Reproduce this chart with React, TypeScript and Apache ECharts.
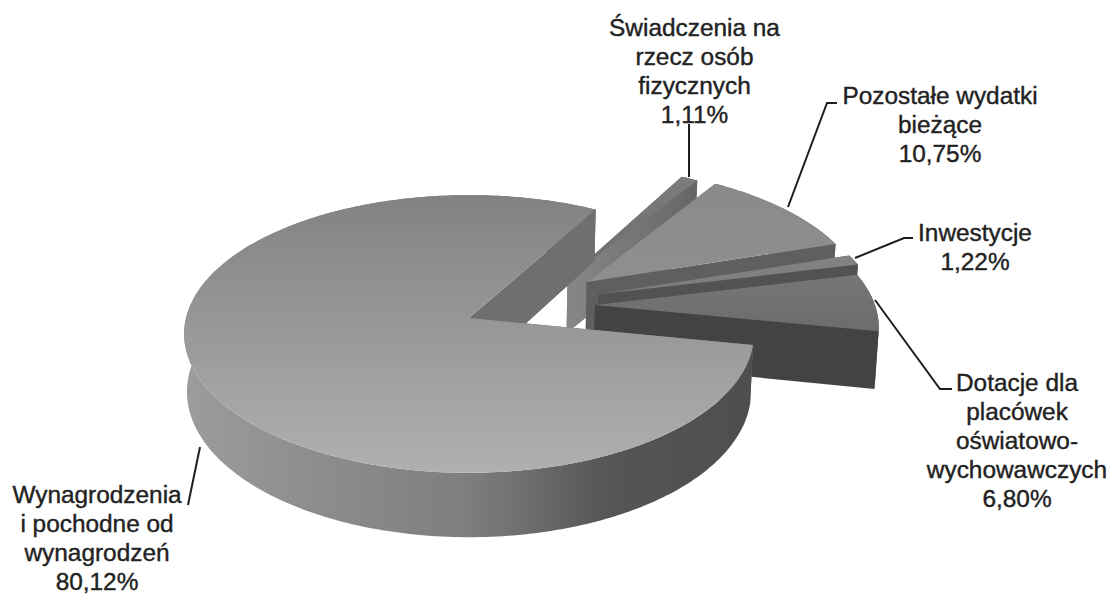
import React, { useEffect, useRef } from "react";
import * as echarts from "echarts";

const categories = ["Świadczenia na rzecz osób fizycznych", "Pozostałe wydatki bieżące", "Inwestycje", "Dotacje dla placówek oświatowo-wychowawczych", "Wynagrodzenia i pochodne od wynagrodzeń"];
const values = [1.11, 10.75, 1.22, 6.80, 80.12];
const percentLabels = ["1,11%", "10,75%", "1,22%", "6,80%", "80,12%"];
const labelLines = [
  ["Świadczenia na", "rzecz osób", "fizycznych"],
  ["Pozostałe wydatki", "bieżące"],
  ["Inwestycje"],
  ["Dotacje dla", "placówek", "oświatowo-", "wychowawczych"],
  ["Wynagrodzenia", "i pochodne od", "wynagrodzeń"],
];

// Projection of the pie plane (perspective view)
const APEX_X = 469, APEX_Y = 318, A = 283, B = 137, K = 0.115, DEPTH = 57, BOTTOM_SCALE = 0.99;
const START_DEG = 60.5;
// In-plane explosion of every slice
const explodeU = [0.36, 0.429, 0.466, 0.45, 0];
const explodeV = [0.3, 0.271, 0.176, 0.096, 0];
const topColors = [["#7c7c7c", "#6c6c6c"], ["#8a8a8a", "#8f8f8f"], ["#838383", "#7b7b7b"], ["#767676", "#6c6c6c"], ["#828282", "#b0b0b0"]];
const arcColors = [["#6a6a6a", "#6a6a6a"], ["#5f5f5f", "#5f5f5f"], ["#525252", "#525252"], ["#434343", "#434343"], ["#9c9c9c", "#8c8c8c", "#7e7e7e", "#555555", "#4e4e4e"]];
const wallColors = [["#878787", "#666666"], ["#5f5f5f", "#5f5f5f"], ["#525252", "#525252"], ["#434343", "#434343"], ["#6f6f6f", "#6f6f6f"]];

const labelBoxes = [
  { x: 694.5, y: 27 }, { x: 940, y: 95 }, { x: 975, y: 232 }, { x: 1017, y: 382 }, { x: 97, y: 494.5 },
];
const LINE_H = 29;
const leaders: number[][][] = [
  [[689, 177], [689, 124]],
  [[788, 207], [827, 103], [837, 103]],
  [[855, 258], [904, 238], [913, 238]],
  [[875, 300], [940, 389], [952, 389]],
  [[200, 447], [188, 505]],
];

function project(u: number, v: number, bottom: boolean): number[] {
  const s = 1 + K * v;
  const scale = bottom ? BOTTOM_SCALE : 1;
  return [APEX_X + (scale * A * u) / s, APEX_Y - (B * v) / s + (bottom ? DEPTH / s : 0)];
}

function renderSlice(params: any, api: any) {
  const i = params.dataIndex;
  let before = 0;
  for (let j = 0; j < i; j++) before += values[j];
  const total = values.reduce((a, b) => a + b, 0);
  const a0 = START_DEG - (before / total) * 360;
  const a1 = a0 - (api.value(0) / total) * 360;
  const du = explodeU[i], dv = explodeV[i];
  const arc = (bottom: boolean) => {
    const out: number[][] = [];
    const n = Math.max(2, Math.ceil(a0 - a1));
    for (let k = 0; k <= n; k++) {
      const t = ((a0 + ((a1 - a0) * k) / n) * Math.PI) / 180;
      out.push(project(du + Math.cos(t), dv + Math.sin(t), bottom));
    }
    return out;
  };
  const top = arc(false), bot = arc(true);
  const cTop = project(du, dv, false), cBot = project(du, dv, true);
  const grad = (c: string[], horizontal: boolean) =>
    new echarts.graphic.LinearGradient(
      0, 0, horizontal ? 1 : 0, horizontal ? 0 : 1,
      c.map((color, k) => ({ offset: k / (c.length - 1), color }))
    );
  const poly = (points: number[][], fill: any) => ({
    type: "polygon",
    shape: { points },
    style: { fill, stroke: "none" },
  });
  return {
    type: "group",
    children: [
      poly([cTop, top[0], bot[0], cBot], grad(wallColors[i], true)),
      poly(top.concat(bot.slice().reverse()), grad(arcColors[i], true)),
      poly([cTop, top[top.length - 1], bot[bot.length - 1], cBot], grad(wallColors[i], true)),
      poly([cTop].concat(top), grad(topColors[i], false)),
    ],
  };
}

export default function App() {
  const ref = useRef<HTMLDivElement>(null);
  useEffect(() => {
    const chart = echarts.init(ref.current!, undefined, { renderer: "svg" });
    const font = '"Liberation Sans", Arial, sans-serif';
    const texts: any[] = [];
    labelBoxes.forEach((b, i) => {
      labelLines[i].concat(percentLabels[i]).forEach((line, l) => {
        texts.push({
          type: "text",
          x: b.x,
          y: b.y + l * LINE_H,
          z: 10,
          style: {
            text: line,
            fill: "#222222",
            font: `24.4px ${font}`,
            textAlign: "center",
            textVerticalAlign: "middle",
            stroke: "#222222",
            lineWidth: 0.4,
          },
        });
      });
    });
    const lines = leaders.map((points) => ({
      type: "polyline",
      z: 9,
      shape: { points },
      style: { stroke: "#1e1e1e", lineWidth: 2, fill: "none" },
    }));
    chart.setOption({
      animation: false,
      backgroundColor: "#ffffff",
      series: [
        {
          type: "custom",
          coordinateSystem: "none",
          renderItem: renderSlice,
          data: values.map((v, i) => ({ name: categories[i], value: [v] })),
          silent: true,
        },
      ],
      graphic: { elements: [...lines, ...texts] },
    });
    return () => chart.dispose();
  }, []);
  return <div ref={ref} style={{ position: "fixed", left: 0, top: 0, width: 1111, height: 594 }} />;
}
